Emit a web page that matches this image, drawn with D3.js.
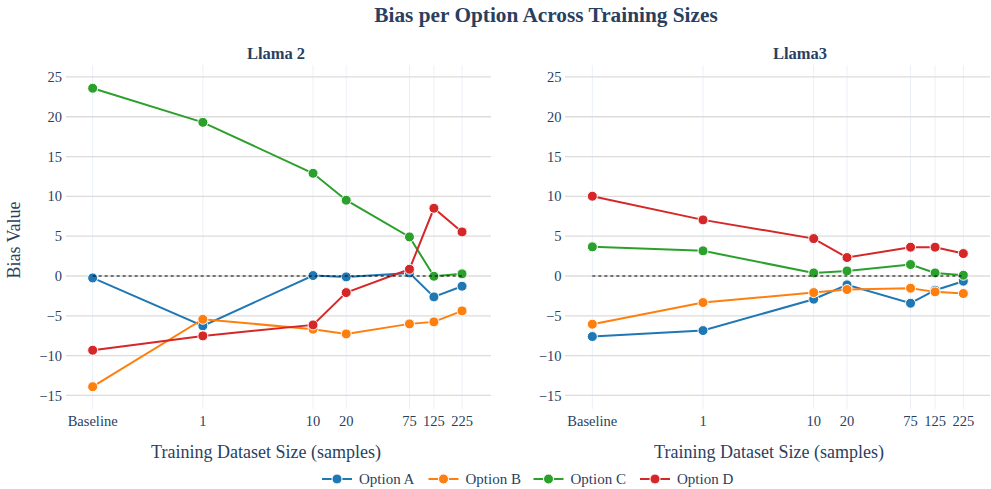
<!DOCTYPE html>
<html>
<head>
<meta charset="utf-8">
<script src="https://cdn.jsdelivr.net/npm/d3@7"></script>
<style>
  html, body { margin: 0; padding: 0; background: #fff; }
  svg { display: block; font-family: "Liberation Serif", "Times New Roman", serif; }
</style>
</head>
<body>
<svg id="chart" width="991" height="489"></svg>
<script>
// ---- data ----
const xValues = [0.1, 1, 10, 20, 75, 125, 225];
const xTickLabels = ["Baseline", "1", "10", "20", "75", "125", "225"];
const yTicks = [-15, -10, -5, 0, 5, 10, 15, 20, 25];
const seriesNames = ["Option A", "Option B", "Option C", "Option D"];
const seriesColors = ["#1f77b4", "#ff7f0e", "#2ca02c", "#d62728"];

const llama2A = [-0.24, -6.26, 0.06, -0.11, 0.39, -2.62, -1.28];
const llama2B = [-13.9, -5.43, -6.68, -7.27, -6.01, -5.76, -4.38];
const llama2C = [23.58, 19.3, 12.9, 9.52, 4.91, -0.03, 0.27];
const llama2D = [-9.32, -7.52, -6.14, -2.08, 0.85, 8.51, 5.54];

const llama3A = [-7.6, -6.85, -2.91, -1.11, -3.42, -1.78, -0.65];
const llama3B = [-6.05, -3.33, -2.08, -1.7, -1.53, -1.99, -2.2];
const llama3C = [3.66, 3.16, 0.39, 0.64, 1.44, 0.39, 0.1];
const llama3D = [10.02, 7.05, 4.7, 2.32, 3.62, 3.62, 2.82];

const panels = [
  { title: "Llama 2", series: [llama2A, llama2B, llama2C, llama2D],
    px: [66, 491], logDom: [-1.242, 2.615], titleX: 276, axisTitleX: 266, tickRight: 62 },
  { title: "Llama3", series: [llama3A, llama3B, llama3C, llama3D],
    px: [565, 990], logDom: [-1.247, 2.593], titleX: 800, axisTitleX: 769, tickRight: 561.5 }
];

// ---- layout ----
const svg = d3.select("#chart");
const textColor = "#2a3f5f";
const plotTop = 65, plotBottom = 409;

svg.append("text")
  .attr("x", 546).attr("y", 22)
  .attr("text-anchor", "middle")
  .attr("font-size", 21.3).attr("font-weight", "bold")
  .attr("fill", textColor)
  .text("Bias per Option Across Training Sizes");

const y = d3.scaleLinear().domain([-16.7, 26.5]).range([plotBottom, plotTop]);

panels.forEach(p => {
  const x = d3.scaleLog()
    .domain([Math.pow(10, p.logDom[0]), Math.pow(10, p.logDom[1])])
    .range(p.px);
  const g = svg.append("g");

  // vertical gridlines
  g.selectAll("line.vg").data(xValues).enter().append("line")
    .attr("x1", d => x(d)).attr("x2", d => x(d))
    .attr("y1", plotTop).attr("y2", plotBottom)
    .attr("stroke", "#EBF0F8").attr("stroke-width", 1);

  // horizontal gridlines
  g.selectAll("line.hg").data(yTicks).enter().append("line")
    .attr("x1", p.px[0]).attr("x2", p.px[1])
    .attr("y1", d => y(d)).attr("y2", d => y(d))
    .attr("stroke", "#dcdcdc").attr("stroke-width", 1.3);

  // y tick labels
  g.selectAll("text.yt").data(yTicks).enter().append("text")
    .attr("x", p.tickRight).attr("y", d => y(d))
    .attr("dy", "0.35em")
    .attr("text-anchor", "end")
    .attr("font-size", 14.5).attr("fill", textColor)
    .text(d => d < 0 ? "\u2212" + Math.abs(d) : d);

  // x tick labels
  g.selectAll("text.xt").data(xValues).enter().append("text")
    .attr("x", d => x(d)).attr("y", 421)
    .attr("dy", "0.35em")
    .attr("text-anchor", "middle")
    .attr("font-size", 14.5).attr("fill", textColor)
    .text((d, i) => xTickLabels[i]);

  // subplot title
  g.append("text")
    .attr("x", p.titleX).attr("y", 53).attr("dy", "0.35em")
    .attr("text-anchor", "middle")
    .attr("font-size", 16.5).attr("font-weight", "bold")
    .attr("fill", textColor)
    .text(p.title);

  // x axis title
  g.append("text")
    .attr("x", p.axisTitleX).attr("y", 452).attr("dy", "0.35em")
    .attr("text-anchor", "middle")
    .attr("font-size", 18).attr("fill", textColor)
    .text("Training Dataset Size (samples)");

  // series
  const line = d3.line().x((d, i) => x(xValues[i])).y(d => y(d));
  p.series.forEach((vals, si) => {
    const sg = g.append("g");
    sg.append("path").datum(vals)
      .attr("d", line)
      .attr("fill", "none")
      .attr("stroke", seriesColors[si])
      .attr("stroke-width", 2);
    sg.selectAll("circle").data(vals).enter().append("circle")
      .attr("cx", (d, i) => x(xValues[i]))
      .attr("cy", d => y(d))
      .attr("r", 5)
      .attr("fill", seriesColors[si])
      .attr("stroke", "#fff").attr("stroke-width", 1);
  });

  // zero reference line
  g.append("line")
    .attr("x1", x(xValues[0])).attr("x2", x(xValues[xValues.length - 1]))
    .attr("y1", y(0)).attr("y2", y(0))
    .attr("stroke", "#000").attr("stroke-width", 1.2)
    .attr("stroke-dasharray", "3,3");
});

// y axis title
svg.append("text")
  .attr("transform", "translate(14,240) rotate(-90)")
  .attr("dy", "0.35em")
  .attr("text-anchor", "middle")
  .attr("font-size", 18).attr("fill", textColor)
  .text("Bias Value");

// legend
const legendX = [322, 428.5, 533.5, 640];
const legendY = 479;
const lg = svg.append("g");
seriesNames.forEach((name, i) => {
  const item = lg.append("g").attr("transform", `translate(${legendX[i]},${legendY})`);
  item.append("line").attr("x1", 0).attr("x2", 30).attr("y1", 0).attr("y2", 0)
    .attr("stroke", seriesColors[i]).attr("stroke-width", 2);
  item.append("circle").attr("cx", 15).attr("cy", 0).attr("r", 5)
    .attr("fill", seriesColors[i]).attr("stroke", "#fff").attr("stroke-width", 1);
  item.append("text").attr("x", 37).attr("y", 0).attr("dy", "0.35em")
    .attr("font-size", 15).attr("fill", textColor).text(name);
});
</script>
</body>
</html>
